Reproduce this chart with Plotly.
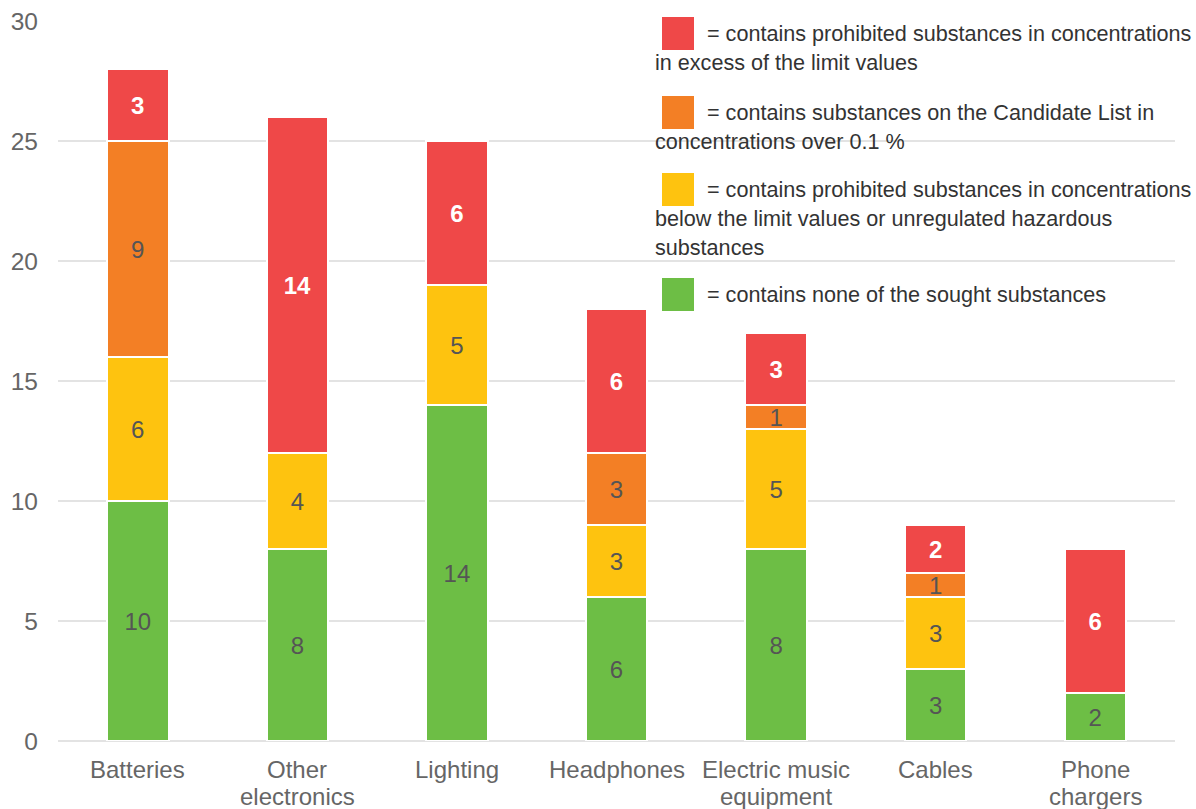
import plotly.graph_objects as go

# Product groups and number of tested products per result class
categories = ["Batteries", "Other<br>electronics", "Lighting", "Headphones",
              "Electric music<br>equipment", "Cables", "Phone<br>chargers"]

none_found = [10, 8, 14, 6, 8, 3, 2]
below_limit = [6, 4, 5, 3, 5, 3, 0]
candidate_list = [9, 0, 0, 3, 1, 1, 0]
over_limit = [3, 14, 6, 6, 3, 2, 6]

series_names = [
    "= contains none of the sought substances",
    "= contains prohibited substances in concentrations below the limit values or unregulated hazardous substances",
    "= contains substances on the Candidate List in concentrations over 0.1 %",
    "= contains prohibited substances in concentrations in excess of the limit values",
]
series_values = [none_found, below_limit, candidate_list, over_limit]
series_colors = ["#6DBE45", "#FEC30F", "#F37F25", "#EF4848"]
label_colors = ["#555555", "#555555", "#555555", "#FFFFFF"]
label_bold = [False, False, False, True]

# Legend text, wrapped the way it is printed (top to bottom)
legend_lines = [
    ["= contains prohibited substances in concentrations", "in excess of the limit values"],
    ["= contains substances on the Candidate List in", "concentrations over 0.1 %"],
    ["= contains prohibited substances in concentrations",
     "below the limit values or unregulated hazardous", "substances"],
    ["= contains none of the sought substances"],
]
legend_colors = ["#EF4848", "#F37F25", "#FEC30F", "#6DBE45"]

W, H = 1196, 809
ML, MR, MT, MB = 58, 21, 21, 68
PW, PH = W - ML - MR, H - MT - MB


def px(x):
    return (x - ML) / PW


def py(y):
    return (H - MB - y) / PH


FONT = "Liberation Sans, Arial, sans-serif"
AXIS_GREY = "#666666"

fig = go.Figure()
for name, vals, col, lc, bold in zip(series_names, series_values, series_colors,
                                     label_colors, label_bold):
    txt = [(f"<b>{v}</b>" if bold else str(v)) if v else "" for v in vals]
    fig.add_trace(go.Bar(
        x=categories, y=vals, name=name,
        marker=dict(color=col, line=dict(color="white", width=2)),
        text=txt, texttemplate="%{text}", textangle=0,
        textposition="inside", insidetextanchor="middle",
        insidetextfont=dict(color=lc, size=24, family=FONT),
        hoverinfo="x+y", showlegend=False,
    ))

shapes = [dict(type="rect", xref="paper", yref="paper", layer="between",
               x0=px(647), x1=px(W), y0=py(0), y1=py(322),
               fillcolor="white", line=dict(width=0))]
annotations = []
square_tops = [17, 96, 173, 278]
for lines, col, top in zip(legend_lines, legend_colors, square_tops):
    shapes.append(dict(type="rect", xref="paper", yref="paper", layer="above",
                       x0=px(662), x1=px(694), y0=py(top), y1=py(top + 33),
                       fillcolor=col, line=dict(width=0)))
    mid = top + 16.5
    annotations.append(dict(xref="paper", yref="paper", x=px(705), y=py(mid),
                            text=lines[0], showarrow=False, xanchor="left",
                            yanchor="middle",
                            font=dict(size=21.6, color="#333333", family=FONT)))
    for i, ln in enumerate(lines[1:], start=1):
        annotations.append(dict(xref="paper", yref="paper", x=px(653),
                                y=py(mid + 29 * i), text=ln, showarrow=False,
                                xanchor="left", yanchor="middle",
                                font=dict(size=21.6, color="#333333", family=FONT)))

# Category labels, one annotation per line for tight line spacing
for cat in categories:
    for i, ln in enumerate(cat.split("<br>")):
        annotations.append(dict(xref="x", yref="paper", x=cat, y=py(769 + 27 * i),
                                text=ln, showarrow=False, xanchor="center",
                                yanchor="middle",
                                font=dict(size=24, color=AXIS_GREY, family=FONT)))

fig.update_layout(
    barmode="stack",
    bargap=0.615,
    width=W, height=H,
    margin=dict(l=ML, r=MR, t=MT, b=MB, pad=0, autoexpand=False),
    paper_bgcolor="white", plot_bgcolor="white",
    font=dict(family=FONT, color=AXIS_GREY, size=24),
    uniformtext=dict(minsize=24, mode="show"),
    shapes=shapes,
    annotations=annotations,
    showlegend=False,
)
fig.update_yaxes(range=[0, 30], dtick=5, showgrid=True, gridcolor="#E3E3E3",
                 gridwidth=2, zeroline=True, zerolinecolor="#E3E3E3",
                 zerolinewidth=2, showline=False, ticks="", automargin=False,
                 ticklabelstandoff=19,
                 tickfont=dict(size=24.5, color=AXIS_GREY, family=FONT))
fig.update_xaxes(showgrid=False, showline=False, ticks="", automargin=False,
                 showticklabels=False)

fig.write_html("out.html")
